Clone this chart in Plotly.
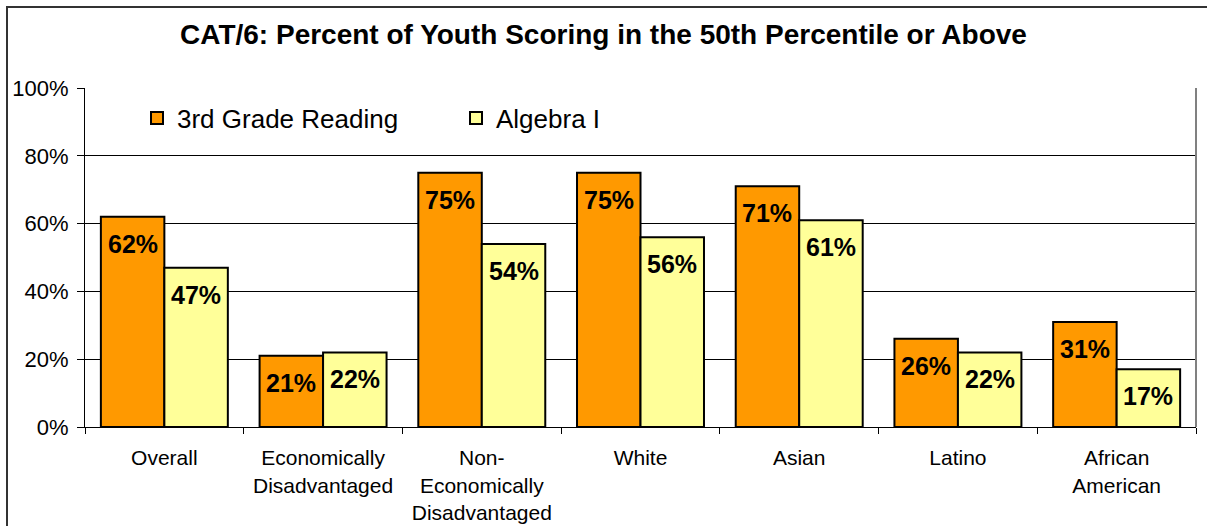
import plotly.graph_objects as go

categories = ["Overall", "Economically<br>Disadvantaged", "Non-<br>Economically<br>Disadvantaged",
              "White", "Asian", "Latino", "African<br>American"]
reading = [62, 21, 75, 75, 71, 26, 31]
algebra = [47, 22, 54, 56, 61, 22, 17]
series_names = ["3rd Grade Reading", "Algebra I"]
tick_vals = [0, 20, 40, 60, 80, 100]
tick_text = ["0%", "20%", "40%", "60%", "80%", "100%"]

FONT = "Liberation Sans, Arial, sans-serif"
W, H = 1207, 526
ML, MR, MT, MB = 85, 11, 88, 99
plot_w = W - ML - MR
plot_h = H - MT - MB
bargap = 0.2
cat_px = plot_w / len(categories)
bar_px = cat_px * (1 - bargap) / 2

fig = go.Figure()
fig.add_trace(go.Bar(name=series_names[0], x=categories, y=reading,
                     marker=dict(color="#FF9900", line=dict(color="black", width=2))))
fig.add_trace(go.Bar(name=series_names[1], x=categories, y=algebra,
                     marker=dict(color="#FFFF99", line=dict(color="black", width=2))))

annotations = []
for vals, sign in ((reading, -1), (algebra, 1)):
    for c, v in zip(categories, vals):
        annotations.append(dict(x=c, y=v, xref="x", yref="y", text=f"<b>{v}%</b>",
                                showarrow=False, xshift=sign * bar_px / 2, yshift=-27,
                                font=dict(family=FONT, size=25, color="black"),
                                xanchor="center", yanchor="middle"))

shapes = [
    # outer chart frame (left and top visible)
    dict(type="rect", xref="paper", yref="paper",
         x0=(7 - ML) / plot_w, x1=(W + 20 - ML) / plot_w,
         y0=-(H + 20 - MT - plot_h) / plot_h, y1=(H - MB - 7) / plot_h,
         line=dict(color="#333333", width=2), layer="below"),
    # right border of plot area
    dict(type="line", xref="paper", yref="paper", x0=1, x1=1, y0=0, y1=1,
         line=dict(color="#808080", width=2)),
]

fig.update_layout(
    width=W, height=H,
    margin=dict(l=ML, r=MR, t=MT, b=MB, pad=0, autoexpand=False),
    paper_bgcolor="white", plot_bgcolor="white",
    barmode="group", bargap=bargap, bargroupgap=0,
    title=dict(text="<b>CAT/6: Percent of Youth Scoring in the 50th Percentile or Above</b>",
               x=0.5, xanchor="center", y=(H - 34) / H, yanchor="middle",
               font=dict(family=FONT, size=28, color="black")),
    font=dict(family=FONT, color="black"),
    legend=dict(orientation="h", x=(137 - ML) / plot_w, y=(H - MB - 118) / plot_h,
                xanchor="left", yanchor="middle", bgcolor="rgba(0,0,0,0)",
                font=dict(family=FONT, size=26), entrywidth=274, entrywidthmode="pixels",
                itemwidth=30, traceorder="normal"),
    xaxis=dict(type="category", showline=True, linecolor="black", linewidth=1,
               ticks="outside", tickson="boundaries", ticklen=6, tickcolor="black",
               tickfont=dict(family=FONT, size=21), ticklabelstandoff=12, showgrid=False,
               automargin=False),
    yaxis=dict(range=[0, 100], tickvals=tick_vals, ticktext=tick_text,
               showline=True, linecolor="black", linewidth=1,
               ticks="outside", ticklen=7, tickcolor="black",
               tickfont=dict(family=FONT, size=22), ticklabelstandoff=4,
               showgrid=True, gridcolor="black", gridwidth=1, zeroline=False,
               automargin=False),
    annotations=annotations,
    shapes=shapes,
)

fig.write_html("out.html")
